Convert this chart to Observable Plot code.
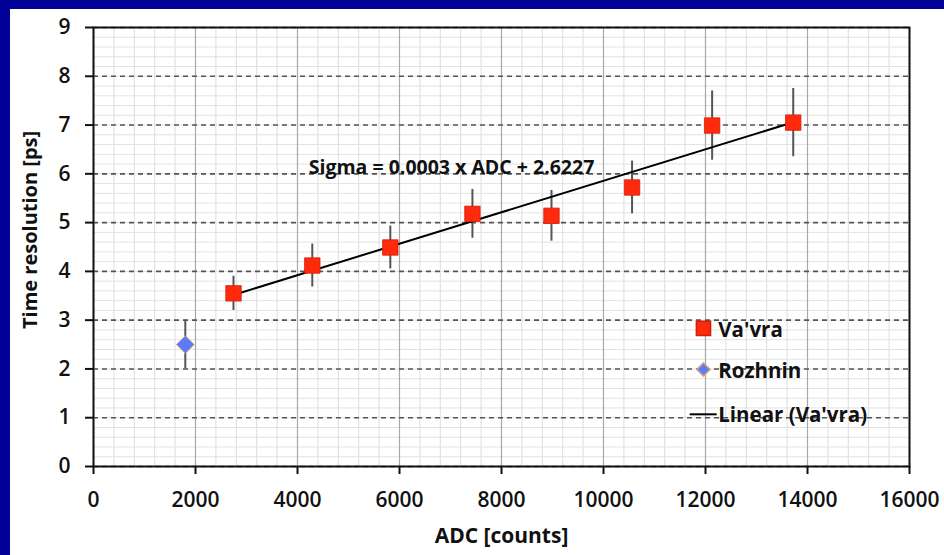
<!DOCTYPE html>
<html>
<head>
<meta charset="utf-8">
<script src="https://cdn.jsdelivr.net/npm/d3@7"></script>
<script src="https://cdn.jsdelivr.net/npm/@observablehq/plot@0.6"></script>
<style>
  html, body { margin: 0; padding: 0; background: #ffffff; width: 944px; height: 555px; overflow: hidden; }
  #bandTop { position: absolute; left: 0; top: 0; width: 100%; height: 9px; background: #000099; }
  #bandLeft { position: absolute; left: 0; top: 0; width: 10px; height: 100%; background: #000099; }
  #panel { position: absolute; left: 10px; top: 9px; width: 934px; height: 546px; background: #ffffff; overflow: hidden; }
  #panel svg { display: block; }
</style>
</head>
<body>
<div id="bandTop"></div>
<div id="bandLeft"></div>
<div id="panel"></div>
<script>
// ---- data ----
const xTicks = [0, 2000, 4000, 6000, 8000, 10000, 12000, 14000, 16000];
const yTicks = [0, 1, 2, 3, 4, 5, 6, 7, 8, 9];

const vavraADC   = [2745, 4290, 5820, 7430, 8980, 10560, 12130, 13720];
const vavraSigma = [3.55, 4.12, 4.49, 5.18, 5.14, 5.72, 6.99, 7.05];
const vavraErr   = [0.35, 0.44, 0.44, 0.50, 0.52, 0.54, 0.71, 0.70];

const rozhninADC   = [1800];
const rozhninSigma = [2.5];
const rozhninErr   = [0.5];

const legendLabels = ["Va'vra", "Rozhnin", "Linear (Va'vra)"];
const equationText = "Sigma = 0.0003 x ADC + 2.6227";
const xTitle = "ADC [counts]";
const yTitle = "Time resolution [ps]";

// ---- tables ----
const vavra = vavraADC.map((x, i) => ({x, y: vavraSigma[i], e: vavraErr[i]}));
const rozhnin = rozhninADC.map((x, i) => ({x, y: rozhninSigma[i], e: rozhninErr[i]}));

const minorX = d3.range(0, 16001, 400);
const minorY = d3.range(0, 9.001, 0.2);

const font = "'Open Sans', 'Liberation Sans', sans-serif";
const red = "#ff2a0c";
const blue = "#5a7cf7";

const chart = Plot.plot({
  width: 934,
  height: 546,
  marginLeft: 83,
  marginTop: 18,
  marginRight: 35,
  marginBottom: 89,
  style: {background: "white", fontFamily: font, color: "#111", overflow: "visible"},
  x: {domain: [0, 16000]},
  y: {domain: [0, 9]},
  marks: [
    // minor grid
    Plot.ruleX(minorX, {stroke: "#dcdcdc", strokeWidth: 1}),
    Plot.ruleY(minorY, {stroke: "#e2e2e2", strokeWidth: 1}),
    // major vertical grid
    Plot.ruleX(xTicks, {stroke: "#a8a8a8", strokeWidth: 1.2}),
    // major horizontal dashed grid
    Plot.ruleY(yTicks, {stroke: "#555", strokeWidth: 1.6, strokeDasharray: "5,4"}),
    // axes
    Plot.axisX({ticks: xTicks, tickSize: 8, tickPadding: 18, tickFormat: d => String(d),
      label: null, fontSize: 21, fontWeight: 600, fontFamily: font, stroke: "#111", strokeWidth: 2}),
    Plot.axisY({ticks: yTicks, tickSize: 8, tickPadding: 15, tickFormat: d => String(d),
      label: null, fontSize: 21, fontWeight: 600, fontFamily: font, stroke: "#111", strokeWidth: 2}),
    Plot.frame({stroke: "#111", strokeWidth: 2}),
    // axis titles
    Plot.text([xTitle], {frameAnchor: "bottom", dy: 76, text: d => d, fontSize: 21, fontWeight: 700, fontFamily: font, fill: "#111"}),
    Plot.text([yTitle], {x: 0, y: 4.85, dx: -63, rotate: -90, text: d => d, fontSize: 20, fontWeight: 700, fontFamily: font, fill: "#111"}),
    // error bars
    Plot.ruleX(vavra, {x: "x", y1: d => d.y - d.e, y2: d => d.y + d.e, stroke: "#555", strokeWidth: 2}),
    Plot.ruleX(rozhnin, {x: "x", y1: d => d.y - d.e, y2: d => d.y + d.e, stroke: "#555", strokeWidth: 2}),
    // trend line
    Plot.linearRegressionY(vavra, {x: "x", y: "y", stroke: "#000", strokeWidth: 2, ci: 0}),
    // points
    Plot.dot(vavra, {x: "x", y: "y", symbol: "square", r: 8.7, fill: red, stroke: "#d0200a", strokeWidth: 0.8}),
    Plot.dot(rozhnin, {x: "x", y: "y", symbol: "diamond2", r: 8, fill: blue, stroke: "#e0a080", strokeWidth: 1}),
    // equation
    Plot.text([equationText], {x: 7020, y: 6.13, text: d => d, fontSize: 19.5, fontWeight: 700, fontFamily: font, fill: "#111"}),
    // legend
    Plot.dot([legendLabels[0]], {x: 11960, y: 2.83, symbol: "square", r: 8, fill: red, stroke: "#d0200a"}),
    Plot.dot([legendLabels[1]], {x: 11960, y: 1.99, symbol: "diamond2", r: 6, fill: blue, stroke: "#e0a080"}),
    Plot.ruleY([1.07], {x1: 11700, x2: 12230, stroke: "#000", strokeWidth: 2}),
    Plot.text(legendLabels, {x: 12250, y: (d, i) => [2.78, 1.94, 1.05][i], text: d => d, textAnchor: "start",
      fontSize: 20.5, fontWeight: 700, fontFamily: font, fill: "#111"})
  ]
});

document.getElementById("panel").appendChild(chart);
</script>
</body>
</html>
